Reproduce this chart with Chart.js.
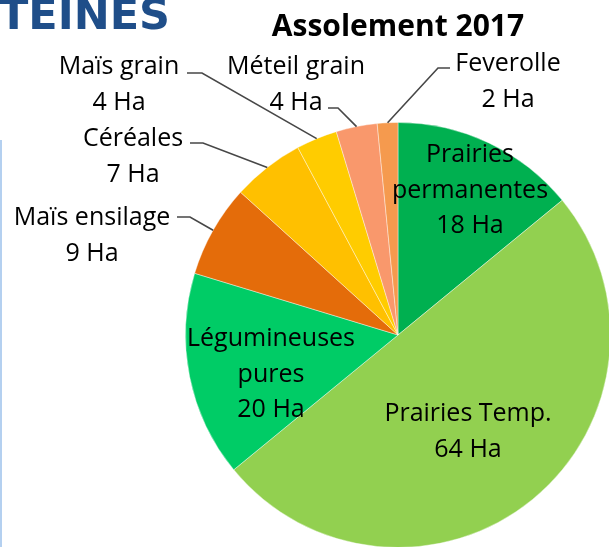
<!DOCTYPE html>
<html>
<head>
<meta charset="utf-8">
<script src="https://cdn.jsdelivr.net/npm/chart.js@4.4.1/dist/chart.umd.min.js"></script>
<style>
  html, body { margin: 0; padding: 0; background: #fff; overflow: hidden; }
  #wrap { position: relative; width: 611px; height: 548px; }
</style>
</head>
<body>
<div id="wrap"><canvas id="assolement"></canvas></div>
<script>
// Surfaces 2017, clockwise from 12 o'clock
const categories = ['Prairies permanentes', 'Prairies Temp.', 'Légumineuses pures', 'Maïs ensilage', 'Céréales', 'Maïs grain', 'Méteil grain', 'Feverolle'];
const hectares = [18, 64, 20, 9, 7, 4, 4, 2];
const nameLines = [['Prairies', 'permanentes'], ['Prairies Temp.'], ['Légumineuses', 'pures'], ['Maïs ensilage'], ['Céréales'], ['Maïs grain'], ['Méteil grain'], ['Feverolle']];

const sliceColors = ['#00B050', '#92D050', '#00CC66', '#E46C0A', '#FFC000', '#FFCC00', '#F9986C', '#F59A4E'];

// label placement, offsets from the pie centre (dx = text centre, dy = first baseline)
const labelPlaces = [
    { dx: 72, dy: -173 },
    { dx: 70, dy: 86 },
    { dx: -127, dy: 11 },
    { dx: -306, dy: -110, leader: [[-221, -118], [-208, -118]] },
    { dx: -265, dy: -189, leader: [[-208, -192], [-195, -192]] },
    { dx: -279, dy: -261, leader: [[-211, -262], [-196, -262]] },
    { dx: -102, dy: -261, leader: [[-70, -227], [-60, -227]] },
    { dx: 110, dy: -264, leader: [[52, -267], [40, -267]] }
];

const sliceLabels = {
    id: 'sliceLabels',
    afterDatasetsDraw(chart) {
        const ctx = chart.ctx;
        const arcs = chart.getDatasetMeta(0).data;
        arcs.forEach((arc, i) => {
            const p = labelPlaces[i];
            const cx = arc.x, cy = arc.y;
            ctx.save();
            if (p.leader) {
                const mid = (arc.startAngle + arc.endAngle) / 2;
                ctx.beginPath();
                ctx.moveTo(cx + p.leader[0][0], cy + p.leader[0][1]);
                ctx.lineTo(cx + p.leader[1][0], cy + p.leader[1][1]);
                ctx.lineTo(cx + Math.cos(mid) * arc.outerRadius, cy + Math.sin(mid) * arc.outerRadius);
                ctx.strokeStyle = '#474747';
                ctx.lineWidth = 1.6;
                ctx.stroke();
            }
            ctx.font = '25px "Open Sans"';
            ctx.fillStyle = '#000000';
            ctx.textAlign = 'center';
            ctx.textBaseline = 'alphabetic';
            const lines = nameLines[i].concat([hectares[i] + ' Ha']);
            lines.forEach((t, k) => ctx.fillText(t, cx + p.dx, cy + p.dy + k * 35.5));
            ctx.restore();
        });
    }
};

// slide background bits: cropped heading and the blue edge
const slideDecor = {
    id: 'slideDecor',
    beforeDraw(chart) {
        const ctx = chart.ctx;
        ctx.save();
        ctx.fillStyle = '#ffffff';
        ctx.fillRect(0, 0, chart.width, chart.height);
        ctx.fillStyle = '#B4D0F0';
        ctx.fillRect(0, 140, 2, chart.height - 140);
        ctx.font = 'bold 43px "DejaVu Sans"';
        ctx.fillStyle = '#1F4E89';
        ctx.textAlign = 'left';
        ctx.textBaseline = 'alphabetic';
        ctx.fillText('TEINES', -1, 29);
        ctx.restore();
    }
};

new Chart(document.getElementById('assolement'), {
    type: 'pie',
    data: {
        labels: categories,
        datasets: [{
            data: hectares,
            backgroundColor: sliceColors,
            borderColor: 'rgba(255,255,255,0.4)',
            borderWidth: 1
        }]
    },
    options: {
        responsive: true,
        maintainAspectRatio: false,
        animation: false,
        layout: { padding: { left: 185, top: 0, right: 0, bottom: 0 } },
        plugins: {
            legend: { display: false },
            tooltip: { enabled: false },
            title: {
                display: true,
                fullSize: false,
                text: 'Assolement 2017',
                color: '#000000',
                font: { family: 'Open Sans', size: 30, weight: 'bold' },
                padding: { top: 9, bottom: 77 }
            }
        }
    },
    plugins: [slideDecor, sliceLabels]
});
</script>
</body>
</html>
